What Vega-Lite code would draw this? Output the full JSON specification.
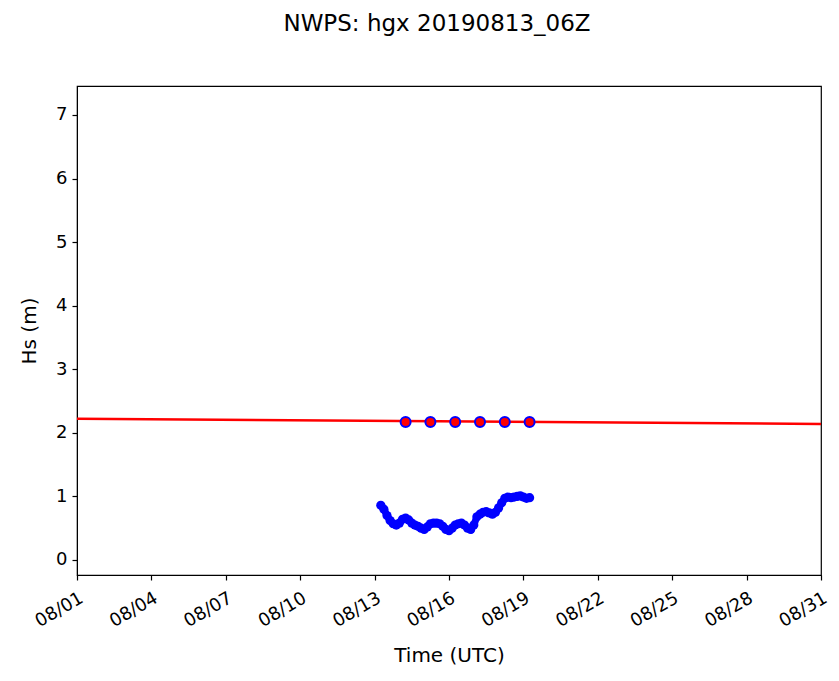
{
  "$schema": "https://vega.github.io/schema/vega-lite/v6.json",
  "autosize": "none",
  "width": 744,
  "height": 489,
  "padding": {"left": 77, "top": 86, "right": 18, "bottom": 106},
  "background": "white",
  "title": {"text": "NWPS: hgx 20190813_06Z", "font": "DejaVu Sans", "fontSize": 23, "fontWeight": "normal", "color": "black", "offset": 50, "dx": -12, "anchor": "middle"},
  "config": {
    "view": {"stroke": "black", "strokeWidth": 1.2},
    "axis": {"grid": false, "domainColor": "black", "tickColor": "black", "labelColor": "black", "titleColor": "black", "labelFont": "DejaVu Sans", "titleFont": "DejaVu Sans", "labelFontSize": 18, "titleFontSize": 20, "titleFontWeight": "normal", "tickSize": 5, "tickWidth": 1.2}
  },
  "datasets": {
    "obs": [
      {"t": "2019-08-13T06:00:00Z", "hs": 0.86},
      {"t": "2019-08-13T09:00:00Z", "hs": 0.80},
      {"t": "2019-08-13T12:00:00Z", "hs": 0.70},
      {"t": "2019-08-13T15:00:00Z", "hs": 0.62},
      {"t": "2019-08-13T18:00:00Z", "hs": 0.57},
      {"t": "2019-08-13T21:00:00Z", "hs": 0.55},
      {"t": "2019-08-14T00:00:00Z", "hs": 0.58},
      {"t": "2019-08-14T03:00:00Z", "hs": 0.64},
      {"t": "2019-08-14T06:00:00Z", "hs": 0.66},
      {"t": "2019-08-14T09:00:00Z", "hs": 0.63},
      {"t": "2019-08-14T12:00:00Z", "hs": 0.58},
      {"t": "2019-08-14T15:00:00Z", "hs": 0.55},
      {"t": "2019-08-14T18:00:00Z", "hs": 0.53},
      {"t": "2019-08-14T21:00:00Z", "hs": 0.50},
      {"t": "2019-08-15T00:00:00Z", "hs": 0.48},
      {"t": "2019-08-15T03:00:00Z", "hs": 0.52},
      {"t": "2019-08-15T06:00:00Z", "hs": 0.57},
      {"t": "2019-08-15T09:00:00Z", "hs": 0.58},
      {"t": "2019-08-15T12:00:00Z", "hs": 0.58},
      {"t": "2019-08-15T15:00:00Z", "hs": 0.57},
      {"t": "2019-08-15T18:00:00Z", "hs": 0.53},
      {"t": "2019-08-15T21:00:00Z", "hs": 0.48},
      {"t": "2019-08-16T00:00:00Z", "hs": 0.46},
      {"t": "2019-08-16T03:00:00Z", "hs": 0.50},
      {"t": "2019-08-16T06:00:00Z", "hs": 0.55},
      {"t": "2019-08-16T09:00:00Z", "hs": 0.57},
      {"t": "2019-08-16T12:00:00Z", "hs": 0.58},
      {"t": "2019-08-16T15:00:00Z", "hs": 0.55},
      {"t": "2019-08-16T18:00:00Z", "hs": 0.50},
      {"t": "2019-08-16T21:00:00Z", "hs": 0.48},
      {"t": "2019-08-17T00:00:00Z", "hs": 0.55},
      {"t": "2019-08-17T03:00:00Z", "hs": 0.68},
      {"t": "2019-08-17T06:00:00Z", "hs": 0.72},
      {"t": "2019-08-17T09:00:00Z", "hs": 0.75},
      {"t": "2019-08-17T12:00:00Z", "hs": 0.76},
      {"t": "2019-08-17T15:00:00Z", "hs": 0.74},
      {"t": "2019-08-17T18:00:00Z", "hs": 0.72},
      {"t": "2019-08-17T21:00:00Z", "hs": 0.75},
      {"t": "2019-08-18T00:00:00Z", "hs": 0.82},
      {"t": "2019-08-18T03:00:00Z", "hs": 0.90},
      {"t": "2019-08-18T06:00:00Z", "hs": 0.97},
      {"t": "2019-08-18T09:00:00Z", "hs": 0.99},
      {"t": "2019-08-18T12:00:00Z", "hs": 0.98},
      {"t": "2019-08-18T15:00:00Z", "hs": 0.99},
      {"t": "2019-08-18T18:00:00Z", "hs": 1.00},
      {"t": "2019-08-18T21:00:00Z", "hs": 1.01},
      {"t": "2019-08-19T00:00:00Z", "hs": 0.99},
      {"t": "2019-08-19T03:00:00Z", "hs": 0.97},
      {"t": "2019-08-19T06:00:00Z", "hs": 0.98}
    ],
    "clim": [
      {"t": "2019-08-01T00:00:00Z", "hs": 2.22},
      {"t": "2019-08-31T00:00:00Z", "hs": 2.14}
    ],
    "fcst": [
      {"t": "2019-08-14T06:00:00Z", "hs": 2.17},
      {"t": "2019-08-15T06:00:00Z", "hs": 2.17},
      {"t": "2019-08-16T06:00:00Z", "hs": 2.17},
      {"t": "2019-08-17T06:00:00Z", "hs": 2.17},
      {"t": "2019-08-18T06:00:00Z", "hs": 2.17},
      {"t": "2019-08-19T06:00:00Z", "hs": 2.17}
    ]
  },
  "encoding": {
    "x": {"field": "t", "type": "temporal",
      "scale": {"type": "utc", "domain": ["2019-08-01T00:00:00Z", "2019-08-31T00:00:00Z"], "nice": false},
      "axis": {"title": "Time (UTC)", "format": "%m/%d", "tickCount": {"interval": "day", "step": 3}, "labelAngle": -30, "labelAlign": "right", "labelBaseline": "top", "labelPadding": 9, "labelDx": -3, "titlePadding": 15, "labelOverlap": false, "labelFlush": false}},
    "y": {"field": "hs", "type": "quantitative",
      "scale": {"domain": [-0.236, 7.456], "nice": false, "zero": false},
      "axis": {"title": "Hs (m)", "values": [0, 1, 2, 3, 4, 5, 6, 7], "titlePadding": 16, "labelPadding": 5}}
  },
  "layer": [
    {"data": {"name": "clim"}, "mark": {"type": "line", "color": "red", "strokeWidth": 2.5, "clip": true}},
    {"data": {"name": "obs"}, "mark": {"type": "line", "color": "blue", "strokeWidth": 7}},
    {"data": {"name": "obs"}, "mark": {"type": "point", "shape": "circle", "filled": true, "color": "blue", "size": 85, "opacity": 1}},
    {"data": {"name": "fcst"}, "mark": {"type": "point", "shape": "circle", "filled": true, "fill": "red", "stroke": "blue", "strokeWidth": 2, "size": 100, "opacity": 1}}
  ]
}
